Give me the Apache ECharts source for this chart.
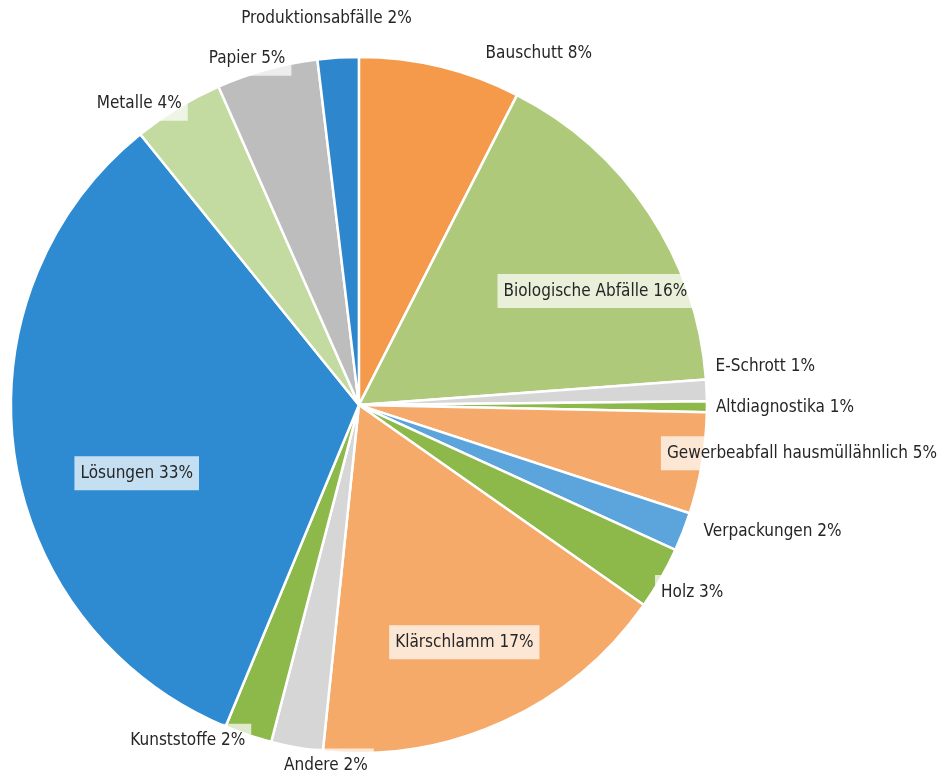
<!DOCTYPE html>
<html lang="de">
<head>
	<meta charset="UTF-8" />
	<title>Abfallarten</title>
	<script src="https://cdn.jsdelivr.net/npm/echarts@6/dist/echarts.min.js"></script>
	<style>
		html, body { margin: 0; padding: 0; background: #fff; }
		#main { width: 952px; height: 779px; }
	</style>
</head>
<body>
<div id="main"></div>

<script>
	// Anteile in Prozent, im Uhrzeigersinn ab 12 Uhr
	var names = ['Bauschutt', 'Biologische Abfälle', 'E-Schrott', 'Altdiagnostika',
		'Gewerbeabfall hausmüllähnlich', 'Verpackungen', 'Holz', 'Klärschlamm',
		'Andere', 'Kunststoffe', 'Lösungen', 'Metalle', 'Papier', 'Produktionsabfälle'];
	var values = [7.5, 16.3, 1.0, 0.5, 4.7, 1.8, 2.9, 16.9, 2.4, 2.2, 32.9, 4.2, 4.7, 1.9];
	var colors = ['#f5994a', '#aec97a', '#d6d6d6', '#8db84a', '#f5a96a', '#5ba4dc', '#8db84a',
		'#f5aa6a', '#d6d6d6', '#8db84a', '#2e8bd1', '#c3dba0', '#bdbdbd', '#2e86cc'];
	var insideNames = ['Biologische Abfälle', 'Klärschlamm', 'Lösungen'];

	// Feinkorrektur der Beschriftungen (dx, dy)
	var nudge = {
		'Bauschutt': [29, -7],
		'Biologische Abfälle': [89, -16],
		'E-Schrott': [-12, -23],
		'Altdiagnostika': [-12, 1],
		'Gewerbeabfall hausmüllähnlich': [-56, -11],
		'Verpackungen': [0, -2],
		'Holz': [-20, 11],
		'Klärschlamm': [32, 76],
		'Andere': [87, 12],
		'Kunststoffe': [14, 0],
		'Lösungen': [-47, 43],
		'Metalle': [22, 1],
		'Papier': [35, -5],
		'Produktionsabfälle': [89, -33]
	};

	var mychart = echarts.init(document.getElementById('main'));

	var data = names.map(function (n, i) {
		return {
			name: n,
			value: values[i],
			itemStyle: { color: colors[i] },
			label: { position: insideNames.indexOf(n) >= 0 ? 'inside' : 'outside' }
		};
	});

	mychart.setOption({
		animation: false,
		series: [{
			type: 'pie',
			center: ['37.7%', '52%'],
			radius: 348,
			startAngle: 90,
			clockwise: true,
			avoidLabelOverlap: false,
			itemStyle: { borderColor: '#fff', borderWidth: 2.5 },
			label: {
				formatter: function (p) { return p.name + ' ' + Math.round(p.value) + '%'; },
				fontFamily: '"Liberation Sans Narrow", "DejaVu Sans Condensed", sans-serif',
				fontSize: 17,
				lineHeight: 22,
				color: '#262626',
				backgroundColor: 'rgba(255,255,255,0.72)',
				padding: [6, 6]
			},
			labelLine: { show: false, length: 6, length2: 4 },
			labelLayout: function (params) {
				var d = nudge[names[params.dataIndex]] || [0, 0];
				return { dx: d[0], dy: d[1], hideOverlap: false };
			},
			emphasis: { disabled: true },
			data: data
		}]
	});
</script>
</body>
</html>
